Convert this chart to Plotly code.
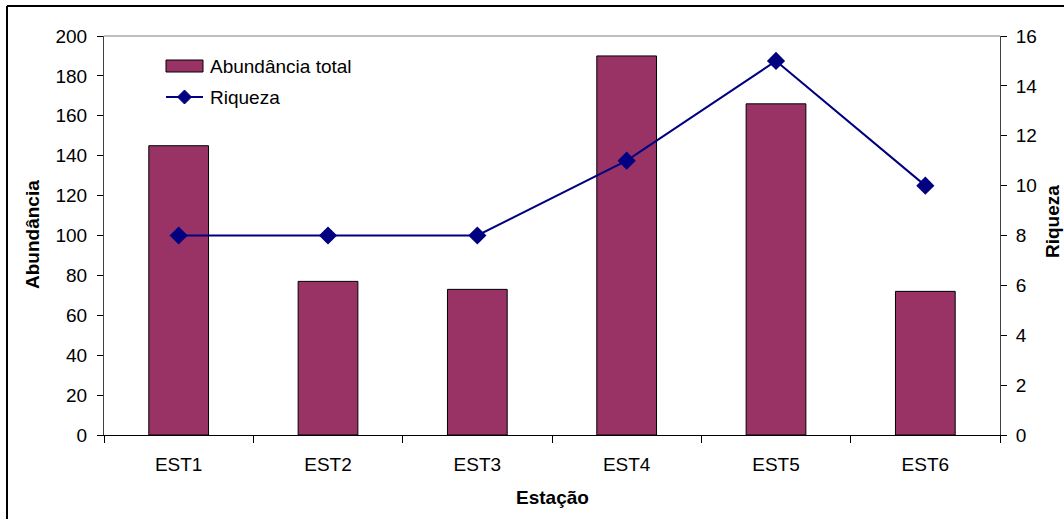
import plotly.graph_objects as go

categories = ["EST1", "EST2", "EST3", "EST4", "EST5", "EST6"]
abundancia = [145, 77, 73, 190, 166, 72]
riqueza = [8, 8, 8, 11, 15, 10]

font_family = "Liberation Sans, Arial, sans-serif"
BAR_COLOR = "#993366"
LINE_COLOR = "#000080"

# plot area in pixels
L, R, T, B = 104, 1000, 36, 435
W, H = R - L, B - T


def px(x):
    return (x - L) / W


def py(y):
    return (B - y) / H


fig = go.Figure()
fig.add_trace(go.Bar(
    x=categories, y=abundancia, name="Abundância total",
    marker=dict(color=BAR_COLOR, line=dict(color="black", width=1)),
    width=0.4, showlegend=False,
))
fig.add_trace(go.Scatter(
    x=categories, y=riqueza, name="Riqueza", yaxis="y2",
    mode="lines+markers",
    line=dict(color=LINE_COLOR, width=2),
    marker=dict(symbol="diamond", size=14, color=LINE_COLOR),
    showlegend=False,
))

tick_font = dict(size=19)

fig.update_layout(
    width=1064, height=519,
    margin=dict(l=L, r=1064 - R, t=T, b=519 - B),
    paper_bgcolor="white", plot_bgcolor="white",
    font=dict(family=font_family, size=19, color="black"),
    showlegend=False,
    xaxis=dict(
        showline=True, linecolor="black", linewidth=1,
        ticks="outside", ticklen=7, tickcolor="black", tickson="boundaries",
        tickfont=tick_font, ticklabelstandoff=12,
        showgrid=False, zeroline=False,
    ),
    xaxis2=dict(
        overlaying="x", anchor="y", range=[-0.5, 5.5],
        tickvals=[-0.5, 0.5, 1.5, 2.5, 3.5, 4.5, 5.5],
        ticks="inside", ticklen=7, tickcolor="black",
        showticklabels=False, showgrid=False, zeroline=False, showline=False,
    ),
    yaxis=dict(
        range=[0, 200], dtick=20, showline=True, linecolor="#404040", linewidth=1,
        ticks="outside", ticklen=6, tickcolor="black",
        tickfont=tick_font, ticklabelstandoff=6,
        showgrid=False, zeroline=False,
    ),
    yaxis2=dict(
        range=[0, 16], dtick=2, overlaying="y", side="right",
        showline=True, linecolor="#404040", linewidth=1,
        ticks="outside", ticklen=6, tickcolor="black",
        tickfont=tick_font, ticklabelstandoff=5,
        showgrid=False, zeroline=False,
    ),
    yaxis3=dict(
        range=[0, 200], dtick=20, overlaying="y", side="left",
        ticks="inside", ticklen=6, tickcolor="black",
        showticklabels=False, showgrid=False, zeroline=False, showline=False,
    ),
    yaxis4=dict(
        range=[0, 16], dtick=2, overlaying="y", side="right",
        ticks="inside", ticklen=6, tickcolor="black",
        showticklabels=False, showgrid=False, zeroline=False, showline=False,
    ),
    shapes=[
        # top border of plot area
        dict(type="line", xref="paper", yref="paper", x0=0, x1=1, y0=1, y1=1,
             line=dict(color="#808080", width=1)),
        # outer frame (left and top edges)
        dict(type="line", xref="paper", yref="paper",
             x0=px(7), x1=px(7), y0=py(6), y1=py(530),
             line=dict(color="black", width=2)),
        dict(type="line", xref="paper", yref="paper",
             x0=px(7), x1=px(1070), y0=py(6), y1=py(6),
             line=dict(color="black", width=2)),
        # legend: bar swatch
        dict(type="rect", xref="paper", yref="paper",
             x0=px(166), x1=px(203), y0=py(72), y1=py(60),
             fillcolor=BAR_COLOR, line=dict(color="black", width=1)),
        # legend: line swatch
        dict(type="line", xref="paper", yref="paper",
             x0=px(166), x1=px(203), y0=py(97), y1=py(97),
             line=dict(color=LINE_COLOR, width=2)),
        dict(type="path", xref="paper", yref="paper",
             path=f"M {px(184.5)},{py(90)} L {px(191.5)},{py(97)} L {px(184.5)},{py(104)} L {px(177.5)},{py(97)} Z",
             fillcolor=LINE_COLOR, line=dict(color=LINE_COLOR, width=1)),
    ],
    annotations=[
        dict(text="Abundância total", xref="paper", yref="paper",
             x=px(208), y=py(66), xanchor="left", yanchor="middle",
             showarrow=False, font=dict(size=19)),
        dict(text="Riqueza", xref="paper", yref="paper",
             x=px(208), y=py(97), xanchor="left", yanchor="middle",
             showarrow=False, font=dict(size=19)),
        dict(text="<b>Abundância</b>", xref="paper", yref="paper",
             x=px(32), y=py(235), xanchor="center", yanchor="middle",
             textangle=-90, showarrow=False, font=dict(size=19)),
        dict(text="<b>Riqueza</b>", xref="paper", yref="paper",
             x=px(1052), y=py(222), xanchor="center", yanchor="middle",
             textangle=-90, showarrow=False, font=dict(size=19)),
        dict(text="<b>Estação</b>", xref="paper", yref="paper",
             x=px(552), y=py(497), xanchor="center", yanchor="middle",
             showarrow=False, font=dict(size=19)),
    ],
)

fig.write_html("out.html")
